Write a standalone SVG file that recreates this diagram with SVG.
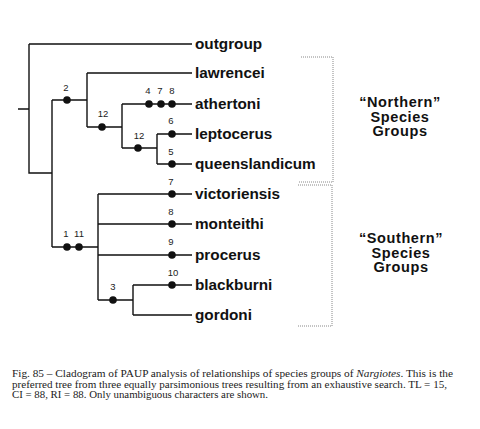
<svg xmlns="http://www.w3.org/2000/svg" width="480" height="429" viewBox="0 0 480 429">
<style>
.ln{stroke:#111;stroke-width:1.4;fill:none}
.dot{fill:#111}
.tx{font-family:"Liberation Sans",Arial,sans-serif;font-weight:bold;font-size:15.3px;fill:#111}
.num{font-family:"Liberation Sans",Arial,sans-serif;font-size:9.5px;fill:#222;text-anchor:middle}
.grp{font-family:"Liberation Sans",Arial,sans-serif;font-weight:bold;font-size:14.5px;fill:#111;text-anchor:middle;letter-spacing:0.6px}
.br{stroke:#888;stroke-width:1;fill:none;stroke-dasharray:1 1}
.cap{font-family:"Liberation Serif","Times New Roman",serif;font-size:10px;fill:#222}
</style>
<rect width="480" height="429" fill="#fff"/>
<g id="connectors">
<path class="ln" d="M18 109H29M29 44V173H52M29 44H192"/>
<path class="ln" d="M52 100V247M52 100H87M87 73V127M87 73H192M87 127H122M122 104V148M122 104H192M122 148H157M157 134V164M157 134H192M157 164H192"/>
<path class="ln" d="M52 247H98M98 194V300M98 194H192M98 224H192M98 255H192M98 300H133M133 285V315M133 285H192M133 315H192"/>
</g>
<g id="characters">
<circle class="dot" cx="67" cy="100" r="3.8"/><text class="num" x="66" y="91">2</text>
<circle class="dot" cx="102" cy="127" r="3.8"/><text class="num" x="103" y="117">12</text>
<circle class="dot" cx="149" cy="104" r="3.8"/><text class="num" x="148" y="94">4</text>
<circle class="dot" cx="161" cy="104" r="3.8"/><text class="num" x="160" y="94">7</text>
<circle class="dot" cx="172" cy="104" r="3.8"/><text class="num" x="172" y="94">8</text>
<circle class="dot" cx="138" cy="148" r="3.8"/><text class="num" x="139" y="139">12</text>
<circle class="dot" cx="172" cy="134" r="3.8"/><text class="num" x="171" y="124">6</text>
<circle class="dot" cx="172" cy="164" r="3.8"/><text class="num" x="171" y="155">5</text>
<circle class="dot" cx="67" cy="247" r="3.8"/><text class="num" x="66" y="237">1</text>
<circle class="dot" cx="79" cy="247" r="3.8"/><text class="num" x="79" y="237">11</text>
<circle class="dot" cx="172" cy="194" r="3.8"/><text class="num" x="171" y="185">7</text>
<circle class="dot" cx="172" cy="224" r="3.8"/><text class="num" x="171" y="215">8</text>
<circle class="dot" cx="172" cy="255" r="3.8"/><text class="num" x="171" y="245">9</text>
<circle class="dot" cx="172" cy="285" r="3.8"/><text class="num" x="173" y="276">10</text>
<circle class="dot" cx="113" cy="300" r="3.8"/><text class="num" x="113" y="290">3</text>
</g>
<g id="outgroup"><text class="tx" x="195" y="49">outgroup</text></g>
<g id="lawrencei"><text class="tx" x="195" y="78">lawrencei</text></g>
<g id="athertoni"><text class="tx" x="195" y="109">athertoni</text></g>
<g id="leptocerus"><text class="tx" x="195" y="139">leptocerus</text></g>
<g id="queenslandicum"><text class="tx" x="195" y="169">queenslandicum</text></g>
<g id="victoriensis"><text class="tx" x="195" y="199">victoriensis</text></g>
<g id="monteithi"><text class="tx" x="195" y="229">monteithi</text></g>
<g id="procerus"><text class="tx" x="195" y="260">procerus</text></g>
<g id="blackburni"><text class="tx" x="195" y="290">blackburni</text></g>
<g id="gordoni"><text class="tx" x="195" y="320">gordoni</text></g>
<g id="northern">
<path class="br" d="M301 57H333V182H298"/>
<text class="grp"><tspan x="400" y="107">“Northern”</tspan><tspan x="400" y="121.5">Species</tspan><tspan x="400" y="136">Groups</tspan></text>
</g>
<g id="southern">
<path class="br" d="M298 185H332V326H297"/>
<text class="grp"><tspan x="401" y="243">“Southern”</tspan><tspan x="401" y="257.5">Species</tspan><tspan x="401" y="272">Groups</tspan></text>
</g>
<g id="caption">
<text class="cap" x="12" y="377" textLength="441" lengthAdjust="spacingAndGlyphs">Fig. 85 – Cladogram of PAUP analysis of relationships of species groups of <tspan font-style="italic">Nargiotes</tspan>. This is the</text>
<text class="cap" x="12" y="387.5" textLength="435" lengthAdjust="spacingAndGlyphs">preferred tree from three equally parsimonious trees resulting from an exhaustive search. TL = 15,</text>
<text class="cap" x="12" y="398" textLength="256" lengthAdjust="spacingAndGlyphs">CI = 88, RI = 88. Only unambiguous characters are shown.</text>
</g>
</svg>
